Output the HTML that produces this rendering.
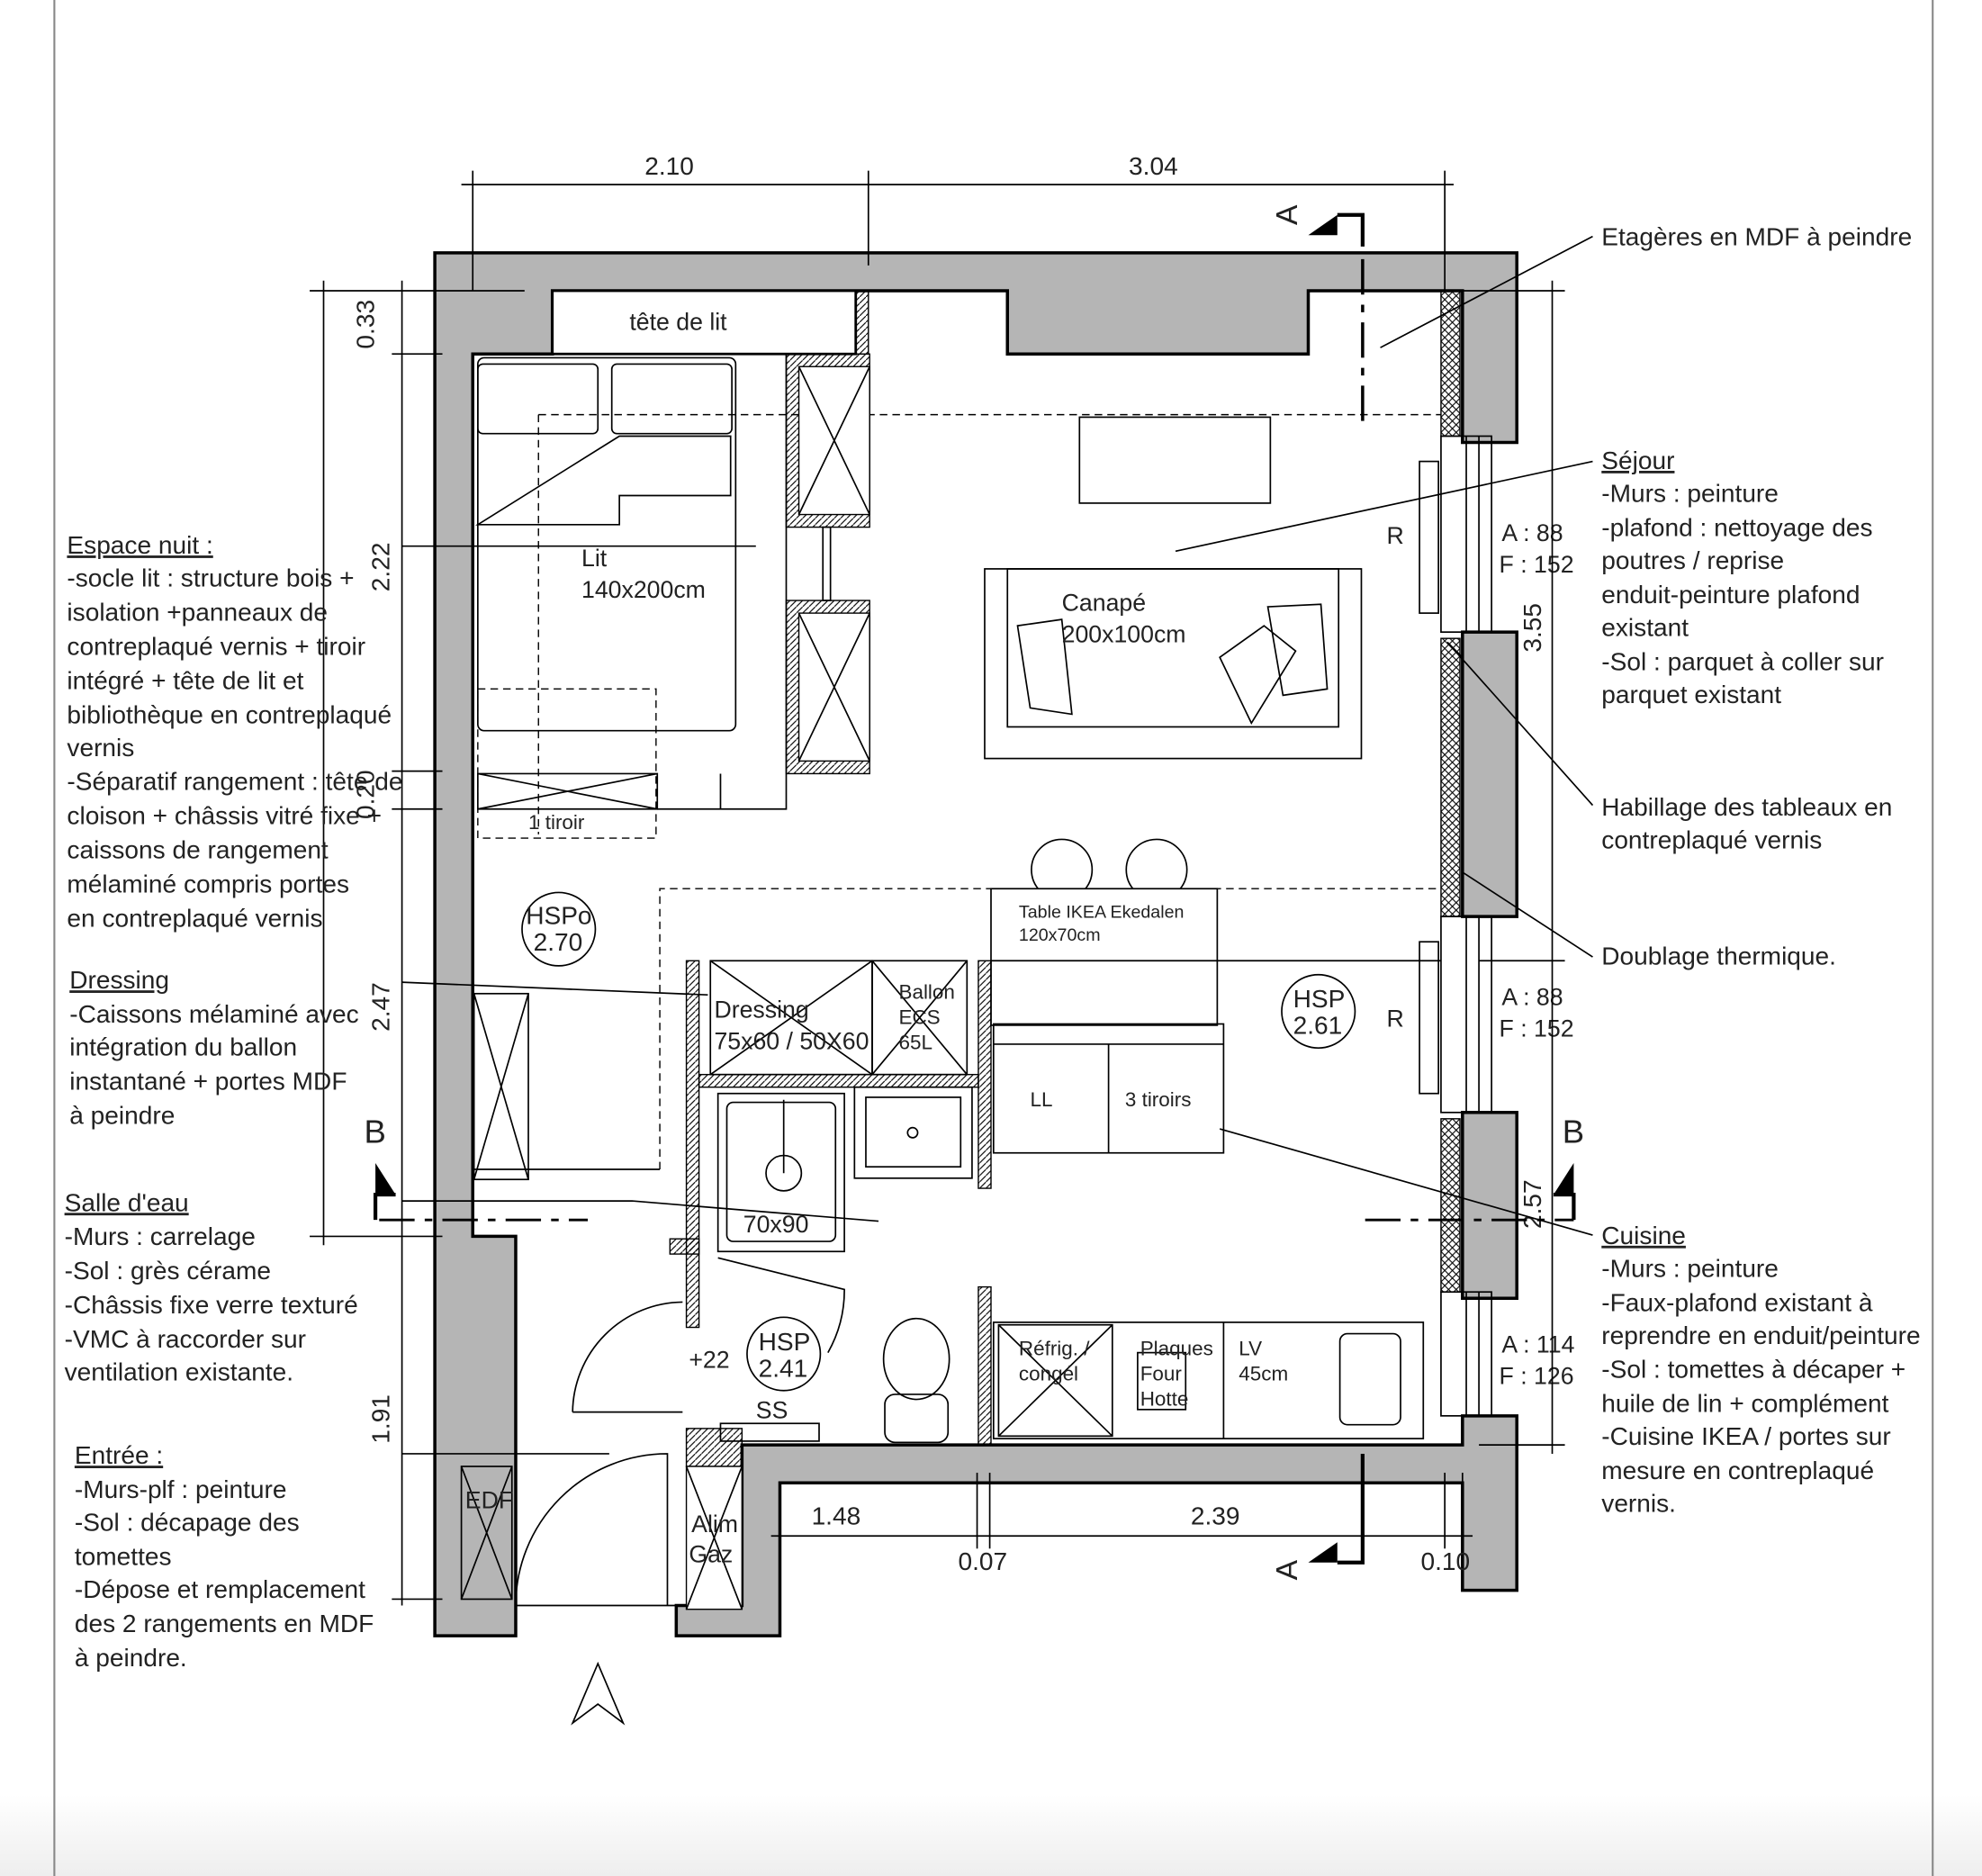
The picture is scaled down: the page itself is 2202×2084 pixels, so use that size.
<!DOCTYPE html>
<html><head><meta charset="utf-8"><style>
html,body{margin:0;padding:0;background:#fff}
svg{display:block}
text{font-family:"Liberation Sans",sans-serif;fill:#222}
.a{font-size:20px;fill:#333}
.w{fill:#b5b5b5;stroke:#000;stroke-width:2.5}
.l{stroke:#000;fill:none;stroke-width:1.2}
.t{stroke:#000;fill:none;stroke-width:2}
.d{stroke:#000;fill:none;stroke-width:1;stroke-dasharray:6 4}
</style></head><body>
<svg width="2202" height="2084" viewBox="0 0 1568 1484" preserveAspectRatio="none" xmlns="http://www.w3.org/2000/svg">
<defs>
<pattern id="h" width="6" height="6" patternUnits="userSpaceOnUse"><path d="M0 6L6 0M0 0L6 6" stroke="#000" stroke-width="0.8"/></pattern>
<pattern id="s" width="5" height="5" patternUnits="userSpaceOnUse"><path d="M0 5L5 0" stroke="#000" stroke-width="0.8"/></pattern>
<linearGradient id="g" x1="0" y1="0" x2="0" y2="1"><stop offset="0" stop-color="#fff"/><stop offset="1" stop-color="#eee"/></linearGradient>
</defs>
<rect x="0" y="1420" width="1568" height="64" fill="url(#g)"/>
<line x1="43" y1="0" x2="43" y2="1484" stroke="#888" stroke-width="1.5"/>
<line x1="1529" y1="0" x2="1529" y2="1484" stroke="#888" stroke-width="1.5"/>

<path class="w" d="M344 200H1200V350H1157V230H1035V280H797V230H437V280H374V978H408V1294H344Z"/>
<rect class="w" x="1157" y="500" width="43" height="225"/>
<rect class="w" x="1157" y="880" width="43" height="147"/>
<path class="w" d="M1157 1120H1200V1258H1157V1173H617V1294H535V1270H587V1143H1157Z"/>
<rect x="437" y="230" width="240" height="50" fill="#fff" stroke="#000" stroke-width="2"/>
<rect x="677" y="230" width="10" height="50" fill="url(#s)" stroke="#000"/>
<rect x="1140" y="230" width="15" height="115" fill="url(#h)" stroke="#000"/>
<rect x="1140" y="505" width="15" height="220" fill="url(#h)" stroke="#000"/>
<rect x="1140" y="885" width="15" height="137" fill="url(#h)" stroke="#000"/>
<g class="l">
<rect x="1140" y="345" width="40" height="155"/><line x1="1160" y1="345" x2="1160" y2="500"/><line x1="1170" y1="345" x2="1170" y2="500"/><rect x="1123" y="365" width="15" height="120"/>
<rect x="1140" y="725" width="40" height="155"/><line x1="1160" y1="725" x2="1160" y2="880"/><line x1="1170" y1="725" x2="1170" y2="880"/><rect x="1123" y="745" width="15" height="120"/>
<rect x="1140" y="1022" width="40" height="98"/><line x1="1160" y1="1022" x2="1160" y2="1120"/><line x1="1170" y1="1022" x2="1170" y2="1120"/>
</g>
<text x="1097" y="430" font-size="19">R</text><text x="1097" y="812" font-size="19">R</text>
<text x="1188" y="428" font-size="19">A : 88</text><text x="1186" y="453" font-size="19">F : 152</text>
<text x="1188" y="795" font-size="19">A : 88</text><text x="1186" y="820" font-size="19">F : 152</text>
<text x="1188" y="1070" font-size="19">A : 114</text><text x="1186" y="1095" font-size="19">F : 126</text>

<g class="l">
<line x1="365" y1="146" x2="1150" y2="146"/><line x1="374" y1="135" x2="374" y2="230"/><line x1="687" y1="135" x2="687" y2="210"/><line x1="1143" y1="135" x2="1143" y2="230"/>
<line x1="256" y1="222" x2="256" y2="985"/><line x1="245" y1="230" x2="415" y2="230"/><line x1="245" y1="978" x2="350" y2="978"/>
<line x1="318" y1="222" x2="318" y2="1270"/><line x1="310" y1="280" x2="350" y2="280"/><line x1="310" y1="610" x2="350" y2="610"/><line x1="310" y1="640" x2="350" y2="640"/><line x1="310" y1="1265" x2="350" y2="1265"/>
<line x1="1228" y1="222" x2="1228" y2="1150"/><line x1="1140" y1="230" x2="1238" y2="230"/><line x1="1170" y1="760" x2="1238" y2="760"/><line x1="1170" y1="1143" x2="1238" y2="1143"/>
<line x1="610" y1="1215" x2="1165" y2="1215"/><line x1="617" y1="1180" x2="617" y2="1225"/><line x1="773" y1="1165" x2="773" y2="1225"/><line x1="783" y1="1165" x2="783" y2="1225"/><line x1="1143" y1="1165" x2="1143" y2="1225"/><line x1="1157" y1="1165" x2="1157" y2="1225"/>
</g>
<g font-size="20">
<text x="510" y="138">2.10</text><text x="893" y="138">3.04</text>
<text x="642" y="1206">1.48</text><text x="942" y="1206">2.39</text><text x="758" y="1242">0.07</text><text x="1124" y="1242">0.10</text>
<text transform="translate(296,276) rotate(-90)">0.33</text>
<text transform="translate(308,468) rotate(-90)">2.22</text>
<text transform="translate(296,648) rotate(-90)">0.20</text>
<text transform="translate(308,816) rotate(-90)">2.47</text>
<text transform="translate(308,1142) rotate(-90)">1.91</text>
<text transform="translate(1219,516) rotate(-90)">3.55</text>
<text transform="translate(1219,972) rotate(-90)">2.57</text>
</g>

<g stroke="#000" stroke-width="3" fill="none">
<path d="M1058 170H1078V195"/><path d="M1078 1150V1236H1058"/>
<path d="M313 945H297V965"/><path d="M1229 945H1245V965"/>
</g>
<path d="M1035 186L1058 170V186Z" fill="#000"/>
<path d="M1035 1236L1058 1220V1236Z" fill="#000"/>
<path d="M297 945L297 920L313 945Z" fill="#000"/>
<path d="M1245 945L1245 920L1229 945Z" fill="#000"/>
<line x1="1078" y1="205" x2="1078" y2="335" stroke="#000" stroke-width="2.5" stroke-dasharray="28 8 6 8"/>
<line x1="300" y1="965" x2="465" y2="965" stroke="#000" stroke-width="2" stroke-dasharray="28 8 6 8"/>
<line x1="1080" y1="965" x2="1245" y2="965" stroke="#000" stroke-width="2" stroke-dasharray="28 8 6 8"/>
<text transform="translate(1026,178) rotate(-90)" font-size="24">A</text>
<text transform="translate(1026,1250) rotate(-90)" font-size="24">A</text>
<text x="288" y="904" font-size="26">B</text><text x="1236" y="904" font-size="26">B</text>

<rect class="l" x="378" y="283" width="204" height="295" rx="5"/>
<rect class="l" x="378" y="288" width="95" height="55" rx="4"/><rect class="l" x="484" y="288" width="95" height="55" rx="4"/>
<path class="l" d="M378 415L490 345H578V392H490V415Z"/>
<line class="d" x1="426" y1="328" x2="1140" y2="328"/><line class="d" x1="426" y1="328" x2="426" y2="660"/>
<rect class="d" x="378" y="545" width="141" height="118"/>
<path class="l" d="M378 612H520V640H378ZM378 612L520 640M378 640L520 612"/>
<path class="l" d="M520 640H622V280M570 612V640"/>
<text x="460" y="448" font-size="19">Lit</text><text x="460" y="473" font-size="19">140x200cm</text>
<text x="418" y="656" font-size="16">1 tiroir</text>
<g>
<rect x="622" y="280" width="66" height="137" fill="url(#s)" stroke="#000"/><rect x="632" y="290" width="56" height="117" fill="#fff" stroke="#000"/>
<path class="l" d="M632 290L688 407M688 290L632 407"/>
<rect x="622" y="475" width="66" height="137" fill="url(#s)" stroke="#000"/><rect x="632" y="485" width="56" height="117" fill="#fff" stroke="#000"/>
<path class="l" d="M632 485L688 602M688 485L632 602"/>
<rect class="l" x="651" y="417" width="6" height="58"/>
</g>
<rect class="l" x="854" y="330" width="151" height="68"/>
<rect class="l" x="779" y="450" width="298" height="150"/><rect class="l" x="797" y="450" width="262" height="125"/>
<path class="l" d="M805 495L840 490L848 565L815 560Z"/><path class="l" d="M965 520L1000 495L1025 515L990 572Z"/><path class="l" d="M1003 480L1045 478L1050 545L1015 550Z"/>
<text x="840" y="483" font-size="19">Canapé</text><text x="840" y="508" font-size="19">200x100cm</text>
<circle class="l" cx="840" cy="688" r="24"/><circle class="l" cx="915" cy="688" r="24"/>
<rect x="784" y="703" width="179" height="108" fill="#fff" stroke="#000" stroke-width="1.2"/>
<text x="806" y="726" font-size="14">Table IKEA Ekedalen</text><text x="806" y="744" font-size="14">120x70cm</text>
<path class="d" d="M522 925V703H1140"/><line class="l" x1="374" y1="925" x2="522" y2="925"/>
<line class="l" x1="784" y1="760" x2="1140" y2="760"/>
<rect class="l" x="375" y="786" width="43" height="147"/><path class="l" d="M375 786L418 933M418 786L375 933"/>
<circle class="l" cx="442" cy="735" r="29"/><text x="416" y="731" font-size="20">HSPo</text><text x="422" y="752" font-size="20">2.70</text>
<circle class="l" cx="1043" cy="800" r="29"/><text x="1023" y="797" font-size="20">HSP</text><text x="1023" y="818" font-size="20">2.61</text>
<circle class="l" cx="620" cy="1071" r="29"/><text x="600" y="1068" font-size="20">HSP</text><text x="600" y="1089" font-size="20">2.41</text>
<rect x="543" y="760" width="10" height="290" fill="url(#s)" stroke="#000"/>
<rect x="774" y="760" width="10" height="180" fill="url(#s)" stroke="#000"/>
<rect x="774" y="1018" width="10" height="125" fill="url(#s)" stroke="#000"/>
<rect x="553" y="850" width="221" height="10" fill="url(#s)" stroke="#000"/>
<rect class="l" x="562" y="760" width="128" height="90"/><path class="l" d="M562 760L690 850M690 760L562 850"/>
<rect class="l" x="690" y="760" width="75" height="90"/><path class="l" d="M690 760L765 850M765 760L690 850"/>
<text x="565" y="805" font-size="19">Dressing</text><text x="565" y="830" font-size="19">75x60 / 50X60</text>
<text x="711" y="790" font-size="16">Ballon</text><text x="711" y="810" font-size="16">ECS</text><text x="711" y="830" font-size="16">65L</text>
<rect class="l" x="568" y="865" width="100" height="125"/><rect class="l" x="575" y="872" width="86" height="110" rx="5"/>
<circle class="l" cx="620" cy="928" r="14"/><line class="l" x1="620" y1="870" x2="620" y2="928"/>
<text x="588" y="975" font-size="19">70x90</text>
<rect class="l" x="676" y="860" width="93" height="72"/><rect class="l" x="685" y="868" width="75" height="55"/><circle class="l" cx="722" cy="896" r="4"/>
<path class="l" d="M568 995L668 1020A100 100 0 0 1 655 1070"/>
<ellipse class="l" cx="725" cy="1075" rx="26" ry="32"/><rect class="l" x="700" y="1103" width="50" height="38" rx="8"/>
<rect class="l" x="570" y="1126" width="78" height="14"/>
<text x="545" y="1082" font-size="19">+22</text><text x="598" y="1122" font-size="19">SS</text>
<rect x="530" y="980" width="23" height="12" fill="url(#s)" stroke="#000"/>
<rect x="543" y="1130" width="44" height="30" fill="url(#s)" stroke="#000"/>
<path class="l" d="M453 1117H540M453 1117A88 88 0 0 1 540 1030"/>
<rect class="l" x="365" y="1160" width="40" height="105"/><path class="l" d="M365 1160L405 1265M405 1160L365 1265"/>
<text x="368" y="1193" font-size="19">EDF</text>
<path class="l" d="M408 1270H535M408 1270A120 120 0 0 1 528 1150V1270"/>
<rect x="543" y="1160" width="44" height="113" fill="#fff" stroke="#000"/><path class="l" d="M543 1160L587 1273M587 1160L543 1273"/>
<text x="547" y="1212" font-size="19">Alim</text><text x="545" y="1236" font-size="19">Gaz</text>
<rect class="l" x="786" y="810" width="182" height="102"/><line class="l" x1="786" y1="826" x2="968" y2="826"/><line class="l" x1="877" y1="826" x2="877" y2="912"/>
<text x="815" y="875" font-size="16">LL</text><text x="890" y="875" font-size="16">3 tiroirs</text>
<rect class="l" x="786" y="1046" width="340" height="92"/>
<rect class="l" x="790" y="1048" width="90" height="88"/><path class="l" d="M790 1048L880 1136M880 1048L790 1136"/>
<line class="l" x1="968" y1="1046" x2="968" y2="1138"/><rect class="l" x="900" y="1070" width="38" height="45"/>
<rect class="l" x="1060" y="1055" width="48" height="72" rx="6"/>
<text x="806" y="1072" font-size="16">Réfrig. /</text><text x="806" y="1092" font-size="16">congél</text>
<text x="902" y="1072" font-size="16">Plaques</text><text x="902" y="1092" font-size="16">Four</text><text x="902" y="1112" font-size="16">Hotte</text>
<text x="980" y="1072" font-size="16">LV</text><text x="980" y="1092" font-size="16">45cm</text>
<path class="l" d="M473 1316L453 1363L473 1348L493 1363Z"/>
<g class="l" stroke-width="0.9">
<path d="M318 432H598"/><path d="M318 777L560 787"/><path d="M318 950H500L695 966"/><path d="M318 1150H482"/>
<path d="M1260 187L1092 275"/><path d="M1260 365L930 436"/><path d="M1260 637L1145 508M1145 508L1157 520"/>
<path d="M1260 757L1157 690"/><path d="M1260 977L965 893"/>
</g>
<g class="a">
<text x="53" y="438" text-decoration="underline">Espace nuit :</text>
<text x="53" y="464">-socle lit : structure bois +</text><text x="53" y="491">isolation +panneaux de</text><text x="53" y="518">contreplaqué vernis + tiroir</text><text x="53" y="545">intégré + tête de lit et</text><text x="53" y="572">bibliothèque en contreplaqué</text><text x="53" y="598">vernis</text><text x="53" y="625">-Séparatif rangement : tête de</text><text x="53" y="652">cloison + châssis vitré fixe +</text><text x="53" y="679">caissons de rangement</text><text x="53" y="706">mélaminé compris portes</text><text x="53" y="733">en contreplaqué vernis</text>
<text x="55" y="782" text-decoration="underline">Dressing</text>
<text x="55" y="809">-Caissons mélaminé avec</text><text x="55" y="835">intégration du ballon</text><text x="55" y="862">instantané + portes MDF</text><text x="55" y="889">à peindre</text>
<text x="51" y="958" text-decoration="underline">Salle d'eau</text>
<text x="51" y="985">-Murs : carrelage</text><text x="51" y="1012">-Sol : grès cérame</text><text x="51" y="1039">-Châssis fixe verre texturé</text><text x="51" y="1066">-VMC à raccorder sur</text><text x="51" y="1092">ventilation existante.</text>
<text x="59" y="1158" text-decoration="underline">Entrée :</text>
<text x="59" y="1185">-Murs-plf : peinture</text><text x="59" y="1211">-Sol : décapage des</text><text x="59" y="1238">tomettes</text><text x="59" y="1264">-Dépose et remplacement</text><text x="59" y="1291">des 2 rangements en MDF</text><text x="59" y="1318">à peindre.</text>
<text x="1267" y="194">Etagères en MDF à peindre</text>
<text x="1267" y="371" text-decoration="underline">Séjour</text>
<text x="1267" y="397">-Murs : peinture</text><text x="1267" y="424">-plafond : nettoyage des</text><text x="1267" y="450">poutres / reprise</text><text x="1267" y="477">enduit-peinture plafond</text><text x="1267" y="503">existant</text><text x="1267" y="530">-Sol : parquet à coller sur</text><text x="1267" y="556">parquet existant</text>
<text x="1267" y="645">Habillage des tableaux en</text><text x="1267" y="671">contreplaqué vernis</text>
<text x="1267" y="763">Doublage thermique.</text>
<text x="1267" y="984" text-decoration="underline">Cuisine</text>
<text x="1267" y="1010">-Murs : peinture</text><text x="1267" y="1037">-Faux-plafond existant à</text><text x="1267" y="1063">reprendre en enduit/peinture</text><text x="1267" y="1090">-Sol : tomettes à décaper +</text><text x="1267" y="1117">huile de lin + complément</text><text x="1267" y="1143">-Cuisine IKEA / portes sur</text><text x="1267" y="1170">mesure en contreplaqué</text><text x="1267" y="1196">vernis.</text>
</g>
<text x="498" y="261" font-size="19">tête de lit</text>
</svg>
</body></html>
